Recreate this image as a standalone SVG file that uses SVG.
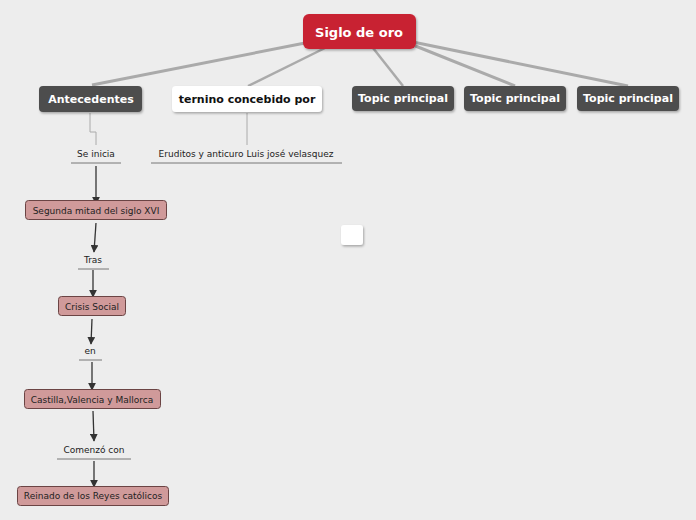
<svg xmlns="http://www.w3.org/2000/svg" width="696" height="520" viewBox="0 0 696 520">
<defs>
<marker id="ah" viewBox="0 0 10 10" refX="9" refY="5" markerWidth="6" markerHeight="6" orient="auto"><path d="M0,0 L10,5 L0,10 z" fill="#333"/></marker>
<filter id="sh" x="-10%" y="-10%" width="130%" height="150%"><feDropShadow dx="1" dy="1.5" stdDeviation="1" flood-color="#000" flood-opacity="0.3"/></filter>
</defs>
<style>
text{font-family:"DejaVu Sans",Verdana,sans-serif;text-anchor:middle}
.dk rect{fill:#4d4d4d;filter:url(#sh)}
.dk text{fill:#fff;font-size:11px;font-weight:bold}
.pk rect{fill:#d09a9a;stroke:#6b4444;stroke-width:1}
.pk text{fill:#222;font-size:9px}
.lb text{fill:#222;font-size:9px}
.lb line{stroke:#777;stroke-width:1}
.ln{stroke:#aaa;fill:none}
.ar{stroke:#333;stroke-width:1.3;fill:none;marker-end:url(#ah)}
</style>
<rect width="696" height="520" fill="#ededed"/>
<g id="connectors">
<path class="ln" stroke-width="3" d="M305,43 L92,85"/>
<path class="ln" stroke-width="2.5" d="M325,48 L248,86"/>
<path class="ln" stroke-width="2.5" d="M373,48 L403,86"/>
<path class="ln" stroke-width="3" d="M413,45 L515,86"/>
<path class="ln" stroke-width="3" d="M413,42 L628,86"/>
<path class="ln" stroke="#888" stroke-width="1" d="M90,113 V132 H96 V145"/>
<path class="ln" stroke="#888" stroke-width="1" d="M247,113 V145"/>
<path class="ar" d="M96,166 V204"/>
<path class="ar" d="M96,223 L94,252"/>
<path class="ar" d="M93,270 V297"/>
<path class="ar" d="M92,319 L91,344"/>
<path class="ar" d="M92,362 V390"/>
<path class="ar" d="M93,411 L94,441"/>
<path class="ar" d="M94,461 V487"/>
</g>
<g id="siglo"><rect x="303" y="14" width="113" height="35" rx="6" fill="#c82033" filter="url(#sh)"/><text x="359" y="37" fill="#fff" font-size="13" font-weight="bold">Siglo de oro</text></g>
<g id="antecedentes" class="dk"><rect x="39" y="86" width="103" height="26" rx="4"/><text x="91" y="103">Antecedentes</text></g>
<g id="ternino"><rect x="172" y="86" width="150" height="26" rx="4" fill="#fff" filter="url(#sh)"/><text x="247" y="103" font-size="11" font-weight="bold" fill="#111">ternino concebido por</text></g>
<g id="topic1" class="dk"><rect x="352" y="86" width="102" height="25" rx="4"/><text x="403" y="102">Topic principal</text></g>
<g id="topic2" class="dk"><rect x="464" y="86" width="102" height="25" rx="4"/><text x="515" y="102">Topic principal</text></g>
<g id="topic3" class="dk"><rect x="577" y="86" width="102" height="25" rx="4"/><text x="628" y="102">Topic principal</text></g>
<g id="seinicia" class="lb"><text x="96" y="157">Se inicia</text><line x1="71" y1="163" x2="121" y2="163"/></g>
<g id="eruditos" class="lb"><text x="246" y="157">Eruditos y anticuro Luis josé velasquez</text><line x1="151" y1="163" x2="342" y2="163"/></g>
<g id="segunda" class="pk"><rect x="25.5" y="200.5" width="141" height="19" rx="3"/><text x="96" y="214">Segunda mitad del siglo XVI</text></g>
<g id="tras" class="lb"><text x="93" y="263">Tras</text><line x1="78" y1="269" x2="109" y2="269"/></g>
<g id="crisis" class="pk"><rect x="58.5" y="296.5" width="67" height="19" rx="3"/><text x="92" y="310">Crisis Social</text></g>
<g id="en" class="lb"><text x="90" y="354">en</text><line x1="79" y1="360" x2="102" y2="360"/></g>
<g id="castilla" class="pk"><rect x="24.5" y="389.5" width="136" height="19" rx="3"/><text x="92" y="403">Castilla,Valencia y Mallorca</text></g>
<g id="comenzo" class="lb"><text x="94" y="453">Comenzó con</text><line x1="57" y1="459" x2="131" y2="459"/></g>
<g id="reinado" class="pk"><rect x="17.5" y="486.5" width="151" height="19" rx="3"/><text x="93" y="499">Reinado de los Reyes católicos</text></g>
<g id="empty"><rect x="341" y="225" width="22" height="20" rx="3" fill="#fff" filter="url(#sh)"/></g>
</svg>
